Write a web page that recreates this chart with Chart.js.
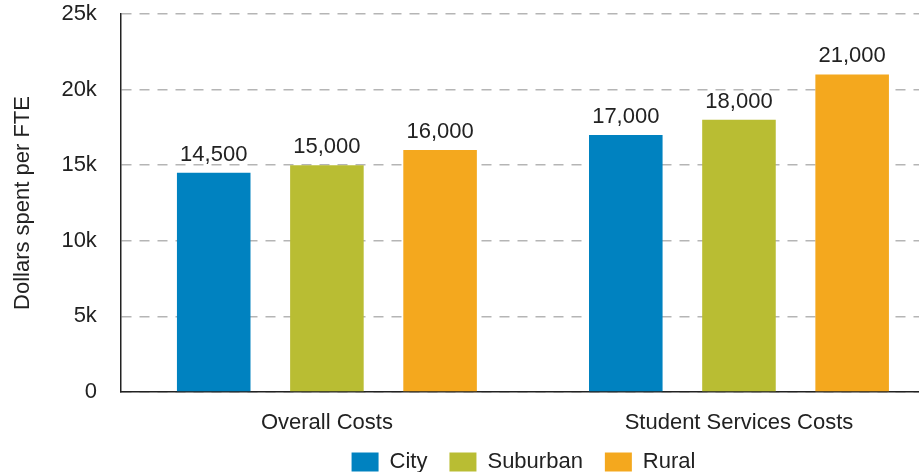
<!DOCTYPE html>
<html>
<head>
<meta charset="utf-8">
<script src="https://cdn.jsdelivr.net/npm/chart.js@4"></script>
<style>
  html, body { margin: 0; padding: 0; background: #fff; overflow: hidden; }
  #wrap { width: 945px; height: 472px; position: relative; }
</style>
</head>
<body>
<div id="wrap"><canvas id="costChart"></canvas></div>
<script>
const categories = ["Overall Costs", "Student Services Costs"];
const cityValues = [14500, 17000];
const suburbanValues = [15000, 18000];
const ruralValues = [16000, 21000];
const yTicks = [0, 5000, 10000, 15000, 20000, 25000];

const FONT = '"Liberation Sans", Arial, sans-serif';
const TEXT = "#222";
const LEGEND_PAD = 22;

// draws the number above each bar
const valueLabels = {
  id: "valueLabels",
  afterDatasetsDraw(chart) {
    const ctx = chart.ctx;
    ctx.save();
    ctx.font = "22px " + FONT;
    ctx.fillStyle = TEXT;
    ctx.textAlign = "center";
    ctx.textBaseline = "alphabetic";
    chart.data.datasets.forEach((ds, i) => {
      chart.getDatasetMeta(i).data.forEach((bar, j) => {
        ctx.fillText(ds.data[j].toLocaleString("en-US"), bar.x, bar.y - 12);
      });
    });
    ctx.restore();
  }
};

// legend sits a bit lower and to the right, under the plot;
// x axis is kept short, so let its labels draw past its box
const layoutTweak = {
  id: "layoutTweak",
  afterLayout(chart) {
    const lg = chart.legend;
    if (lg) {
      lg.left += 46;
      lg.right += 46;
      lg.top = chart.height - 45 - LEGEND_PAD / 2 + 13;
      lg.bottom = chart.height;
    }
    chart.scales.x.bottom = chart.height;
  }
};

const ctx = document.getElementById("costChart").getContext("2d");
new Chart(ctx, {
  type: "bar",
  data: {
    labels: categories,
    datasets: [
      { label: "City", data: cityValues, backgroundColor: "#0082c0" },
      { label: "Suburban", data: suburbanValues, backgroundColor: "#b9bd33" },
      { label: "Rural", data: ruralValues, backgroundColor: "#f4a81e" }
    ]
  },
  options: {
    responsive: true,
    maintainAspectRatio: false,
    animation: false,
    categoryPercentage: 0.824,
    barPercentage: 0.65,
    borderWidth: 0,
    layout: { padding: { top: 0, right: 0, left: 10, bottom: -4 } },
    plugins: {
      tooltip: { enabled: false },
      legend: {
        position: "bottom",
        labels: {
          boxWidth: 27,
          boxHeight: 19,
          padding: LEGEND_PAD,
          color: TEXT,
          font: { family: FONT, size: 22 }
        }
      }
    },
    scales: {
      x: {
        grid: { display: false, drawTicks: false },
        border: { display: true, color: "#222", width: 1.5 },
        ticks: { color: TEXT, font: { family: FONT, size: 22 }, padding: 18 },
        afterFit(axis) {
          axis.height = 30;
        }
      },
      y: {
        min: 0,
        max: 25000,
        afterBuildTicks(axis) {
          axis.ticks = yTicks.map(v => ({ value: v }));
        },
        afterFit(axis) {
          axis.paddingTop = 14;
        },
        grid: {
          color: "#b5b5b5",
          lineWidth: 1.5,
          drawTicks: false
        },
        border: { display: true, color: "#222", width: 1.5, dash: [10, 8] },
        ticks: {
          color: TEXT,
          font: { family: FONT, size: 22 },
          padding: 24,
          callback: v => (v === 0 ? "0" : v / 1000 + "k")
        },
        title: {
          display: true,
          text: "Dollars spent per FTE",
          color: TEXT,
          font: { family: FONT, size: 22 },
          padding: { top: 0, bottom: 1 }
        }
      }
    }
  },
  plugins: [valueLabels, layoutTweak]
});
</script>
</body>
</html>
